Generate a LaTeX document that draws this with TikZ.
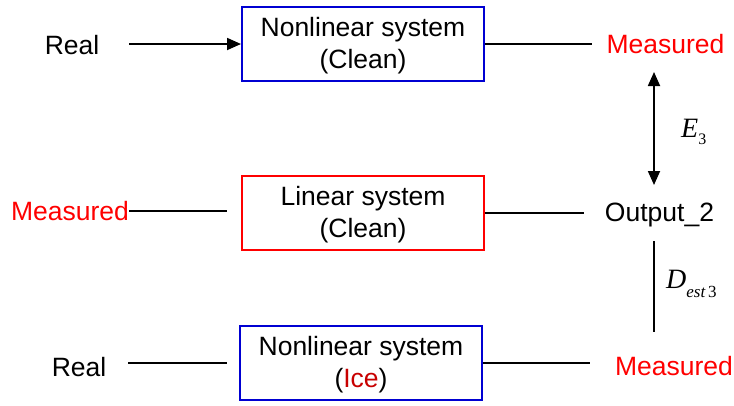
\documentclass[tikz,border=0pt]{standalone}
\usepackage{fontspec}
\setmainfont{Liberation Sans}
\newfontfamily\tms{Liberation Serif}
\usetikzlibrary{arrows.meta}
\definecolor{icered}{RGB}{200,0,0}
\definecolor{boxblue}{RGB}{0,0,210}
\begin{document}
\begin{tikzpicture}[x=1pt,y=-1pt,
  every node/.style={font=\fontsize{26.5}{32}\selectfont},
  lbl/.style={text height=19pt, text depth=0pt, inner sep=0pt},
  sysbox/.style={draw, line width=2pt, minimum width=242pt, minimum height=74pt, inner sep=0pt},
  boxtext/.style={align=center, inner sep=0pt},
  conn/.style={line width=1.8pt},
  arr/.style={conn, -{Triangle[length=14pt,width=12pt]}},
  darr/.style={conn, {Triangle[length=14pt,width=12pt]}-{Triangle[length=14pt,width=12pt]}}]
\useasboundingbox (0,0) rectangle (734,405);
% boxes
\node[sysbox, draw=boxblue] (box1) at (363,44) {};
\node[boxtext] (t1) at ([yshift=-2pt]box1.center) {Nonlinear system\\(Clean)};
\node[sysbox, draw=red] (box2) at (363,213) {};
\node[boxtext] (t2) at ([yshift=-2pt]box2.center) {Linear system\\(Clean)};
\node[sysbox, draw=boxblue] (box3) at (361,363) {};
\node[boxtext] (t3) at ([yshift=-2pt]box3.center) {Nonlinear system\\(\textcolor{icered}{Ice})};
% labels
\node[lbl] (real1) at (72,45) {Real};
\node[lbl, text=red] (meas1) at (665.5,44) {Measured};
\node[lbl, text=red] (meas2) at (70,211) {Measured};
\node[lbl] (out2) at (659.5,212) {Output\_2};
\node[lbl] (real3) at (79,367) {Real};
\node[lbl, text=red] (meas3) at (674,366) {Measured};
% vertical connector ends
\coordinate (e3top) at (654,72);
\coordinate (e3bot) at (654,185);
\coordinate (dtop) at (654,241);
\coordinate (dbot) at (654,332);
% math-like labels
\node[anchor=base west, inner sep=0pt] (e3) at (681,137)
  {{\tms\fontsize{28}{28}\selectfont\itshape E}\raisebox{-7pt}{\tms\fontsize{16}{16}\selectfont 3}};
\node[anchor=base west, inner sep=0pt] (dest) at (666,288)
  {{\tms\fontsize{28}{28}\selectfont\itshape D}\raisebox{-9pt}{\tms\fontsize{17}{17}\selectfont\itshape est\,\upshape 3}};
% connectors
\draw[arr, shorten <=30pt] (real1.east |- box1.west) -- (box1.west);
\draw[conn, shorten >=14pt] (box1.east) -- (box1.east -| meas1.west);
\draw[darr] (e3top) -- (e3bot);
\draw[conn, shorten >=14pt] (meas2.east) -- (meas2.east -| box2.west);
\draw[conn, shorten >=21pt] (box2.east) -- (box2.east -| out2.west);
\draw[conn] (dtop) -- (dbot);
\draw[conn, shorten <=22pt, shorten >=12pt] (real3.east |- box3.west) -- (box3.west);
\draw[conn, shorten >=25pt] (box3.east) -- (box3.east -| meas3.west);
\end{tikzpicture}
\end{document}
